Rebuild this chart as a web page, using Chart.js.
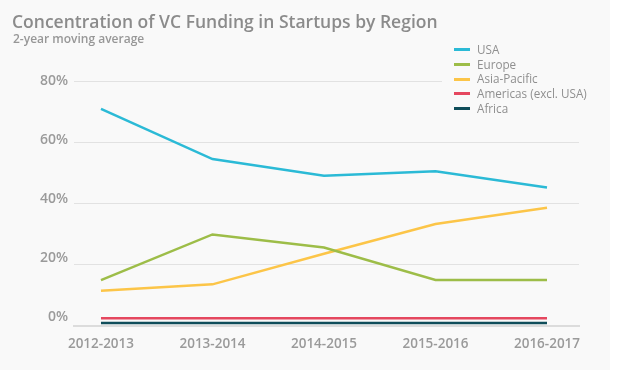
<!DOCTYPE html>
<html>
<head>
<meta charset="utf-8">
<script src="https://cdn.jsdelivr.net/npm/chart.js@4"></script>
<style>
    html, body { margin: 0; padding: 0; background: #ffffff; }
    .panel { position: absolute; left: 0; top: 0; width: 610px; height: 370px; background: #f9f9f9; }
    .wrap { position: absolute; left: 0; top: 0; width: 620px; height: 376px; }
    .title { position: absolute; left: 12px; top: 9px; font: 600 17.5px "Open Sans", sans-serif; color: #8b8b8b; white-space: nowrap; }
    .subtitle { position: absolute; left: 13px; top: 30px; font: 600 12px "Open Sans", sans-serif; color: #979797; white-space: nowrap; }
    .legend { position: absolute; left: 442px; top: 42px; width: 150px; padding-left: 12px; background: #f9f9f9; font: 400 11.7px "Open Sans", sans-serif; color: #8f8f8f; }
    .legend div { height: 14.7px; line-height: 14.7px; white-space: nowrap; }
    .legend span { display: inline-block; width: 16px; height: 3px; margin-right: 7px; vertical-align: middle; position: relative; top: -1px; }
</style>
</head>
<body>
<div class="panel"></div>
<div class="wrap"><canvas id="chart" width="620" height="376"></canvas></div>
<div class="title">Concentration of VC Funding in Startups by Region</div>
<div class="subtitle">2-year moving average</div>
<div class="legend" id="legend"></div>
<script>
(() => {
    const categories = ["2012-2013", "2013-2014", "2014-2015", "2015-2016", "2016-2017"];
    const seriesNames = ["USA", "Europe", "Asia-Pacific", "Americas (excl. USA)", "Africa"];
    const usa = [70.9, 54.5, 49.1, 50.5, 45.2];
    const europe = [15.0, 29.9, 25.6, 15.0, 15.0];
    const asiaPacific = [11.5, 13.6, 23.6, 33.3, 38.6];
    const americas = [2.5, 2.5, 2.5, 2.5, 2.5];
    const africa = [1.0, 1.0, 1.0, 1.0, 1.0];
    const yTicks = [0, 20, 40, 60, 80];
    const colors = ["#2bbad6", "#9dbd48", "#fcc548", "#e5475f", "#0f4d5a"];

    const values = [usa, europe, asiaPacific, americas, africa];

    const legend = document.getElementById("legend");
    seriesNames.forEach((name, i) => {
        const row = document.createElement("div");
        row.innerHTML = `<span style="background:${colors[i]}"></span>${name}`;
        legend.appendChild(row);
    });

    const datasets = seriesNames.map((name, i) => ({
        label: name,
        data: values[i].map((v, j) => ({ x: j, y: v })),
        borderColor: colors[i],
        backgroundColor: colors[i],
        borderWidth: 2.5,
        pointRadius: 0,
        tension: 0,
        fill: false
    }));

    const tickFont = { family: "'Open Sans', sans-serif", size: 13.5, weight: "600" };

    new Chart(document.getElementById("chart"), {
        type: "line",
        data: { datasets },
        options: {
            responsive: false,
            animation: false,
            layout: { padding: { top: 81, right: 41, left: 0, bottom: 0 } },
            plugins: { legend: { display: false }, tooltip: { enabled: false } },
            scales: {
                x: {
                    type: "linear",
                    min: -0.242,
                    max: 4.287,
                    afterBuildTicks: (scale) => {
                        scale.ticks = categories.map((c, i) => ({ value: i }));
                    },
                    afterFit: (scale) => { scale.height = 50; },
                    grid: { display: false, drawTicks: false },
                    border: { display: true, color: "#dcdcdc", width: 2 },
                    ticks: {
                        padding: 10,
                        color: "#9a9a9a",
                        font: tickFont,
                        maxRotation: 0,
                        autoSkip: false,
                        callback: (v) => categories[v]
                    }
                },
                y: {
                    min: 0,
                    max: 80,
                    position: "left",
                    afterBuildTicks: (scale) => {
                        scale.ticks = yTicks.map(v => ({ value: v }));
                    },
                    afterFit: (scale) => { scale.width = 0; },
                    grid: { color: "#e2e2e2", lineWidth: 1, drawTicks: false },
                    border: { display: false },
                    ticks: { display: false }
                },
                // label axis: the reference's tick labels drift upward from their gridlines
                yLabels: {
                    min: -3.05,
                    max: 80,
                    position: "left",
                    afterBuildTicks: (scale) => {
                        scale.ticks = yTicks.map(v => ({ value: v }));
                    },
                    afterFit: (scale) => { scale.width = 74; },
                    grid: { display: false, drawTicks: false },
                    border: { display: false },
                    ticks: {
                        padding: 6,
                        color: "#9a9a9a",
                        font: { family: "'Open Sans', sans-serif", size: 14, weight: "600" },
                        callback: (v) => v + "%"
                    }
                }
            }
        }
    });
})();
</script>
</body>
</html>
